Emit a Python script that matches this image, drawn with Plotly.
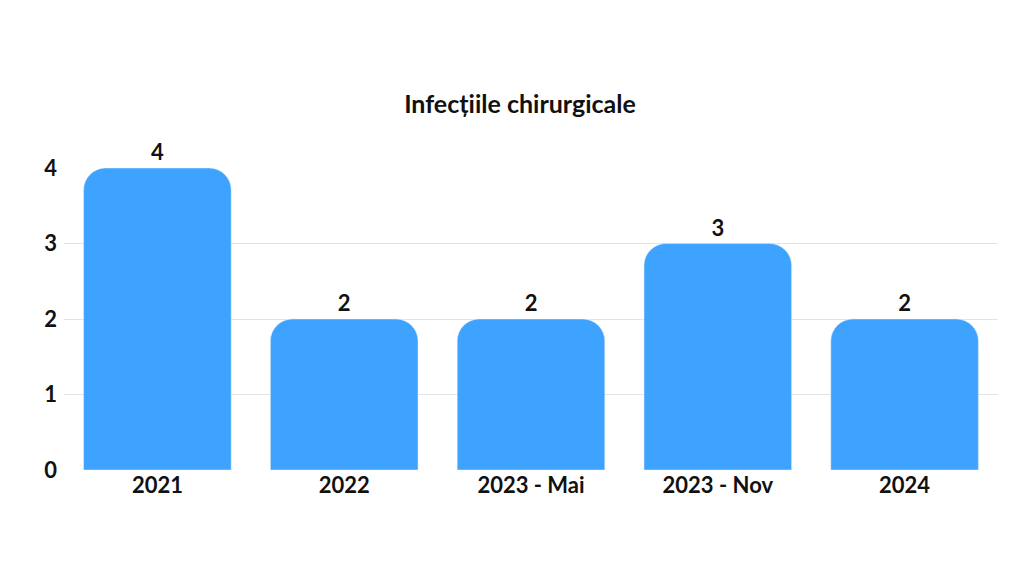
import plotly.graph_objects as go

categories = ["2021", "2022", "2023 - Mai", "2023 - Nov", "2024"]
values = [4, 2, 2, 3, 2]
tick_vals = [0, 1, 2, 3, 4]

font = "Lato"
fig = go.Figure(go.Bar(
    x=categories, y=values, marker_color="#3EA2FF",
    text=["<b>%d</b>" % v for v in values], textposition="outside",
    textfont=dict(family=font, size=22, color="#111"),
    cliponaxis=False, width=0.79,
))
fig.update_layout(
    width=1024, height=576, barcornerradius=22,
    plot_bgcolor="white", paper_bgcolor="white",
    margin=dict(l=56, r=34, t=160, b=114),
    title=dict(text="<b>Infecțiile chirurgicale</b>", x=0.5, xanchor="center",
               y=1 - 96/576, yref="container", yanchor="middle",
               font=dict(family=font, size=25, color="#111")),
    showlegend=False,
)
fig.update_xaxes(tickfont=dict(family=font, size=22, color="#111"),
                 tickvals=categories, ticktext=["<b>%s</b>" % c for c in categories],
                 showline=False)
fig.update_yaxes(range=[0, 4], tickvals=tick_vals,
                 ticktext=["<b>%d</b>" % t for t in tick_vals],
                 showgrid=True, gridcolor="#e3e3e3",
                 zeroline=False, tickfont=dict(family=font, size=22, color="#111"),
                 ticklabelstandoff=6)
fig.write_html("out.html")
